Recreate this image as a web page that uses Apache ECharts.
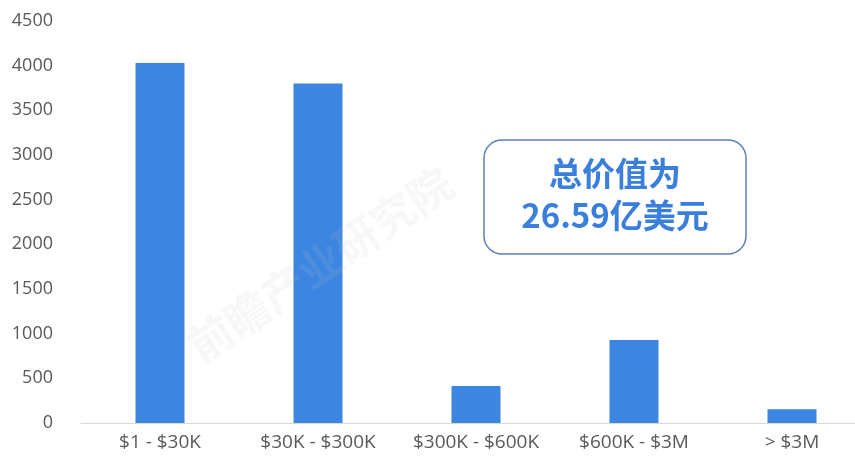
<!DOCTYPE html>
<html>
<head>
<meta charset="utf-8">
<style>
  html, body { margin: 0; padding: 0; background: #ffffff; }
  #chart { width: 855px; height: 458px; }
</style>
<script src="https://cdn.jsdelivr.net/npm/echarts@6/dist/echarts.min.js"></script>
</head>
<body>
<div id="chart"></div>
<script>
// Transaction value brackets and the number of deals in each
const categories = ['$1 - $30K', '$30K - $300K', '$300K - $600K', '$600K - $3M', '> $3M'];
const dealCounts = [4030, 3800, 415, 930, 155];
const yTicks = { min: 0, max: 4500, interval: 500 };
const totalNote = ['总价值为', '26.59亿美元'];
const watermarkText = '前瞻产业研究院';

const chart = echarts.init(document.getElementById('chart'), null, { renderer: 'canvas' });

const labelFont = '"Open Sans", "Liberation Sans", sans-serif';
const cjkFont = '"Noto Sans CJK SC", sans-serif';

chart.setOption({
  animation: false,
  backgroundColor: '#ffffff',
  // plot area runs past the right edge so the last bracket keeps full spacing
  grid: { left: 81, width: 790, top: 21, bottom: 35, containLabel: false, outerBoundsMode: 'none' },
  xAxis: {
    type: 'category',
    data: categories,
    axisLine: { show: true, lineStyle: { color: '#d9d9d9', width: 1 } },
    axisTick: { show: false },
    axisLabel: { color: '#595959', fontSize: 19, fontFamily: labelFont, margin: 10, interval: 0 }
  },
  yAxis: {
    type: 'value',
    min: yTicks.min,
    max: yTicks.max,
    interval: yTicks.interval,
    axisLine: { show: false },
    axisTick: { show: false },
    splitLine: { show: false },
    axisLabel: {
      color: '#595959', fontSize: 18, fontFamily: labelFont, margin: 28,
      formatter: (v) => String(v)
    }
  },
  series: [{
    type: 'bar',
    data: dealCounts,
    barWidth: 49,
    itemStyle: { color: '#3c86e2' }
  }],
  graphic: [
    {
      type: 'text',
      left: 180,
      top: 160,
      rotation: 34 * Math.PI / 180,
      originX: 150,
      originY: 20,
      z: 100,
      style: {
        text: watermarkText,
        fontSize: 44,
        fontWeight: 'bold',
        fontFamily: cjkFont,
        fill: 'rgba(190,190,190,0.13)'
      }
    },
    {
      type: 'rect',
      shape: { x: 484, y: 140, width: 262, height: 114, r: 18 },
      style: { fill: '#ffffff', stroke: '#5f7fb8', lineWidth: 1.5 },
      z: 110
    },
    {
      type: 'text',
      x: 615,
      y: 173,
      z: 111,
      style: {
        text: totalNote[0],
        fontSize: 33,
        fontWeight: 'bold',
        fontFamily: cjkFont,
        fill: '#3a7fdc',
        align: 'center',
        verticalAlign: 'middle'
      }
    },
    {
      type: 'text',
      x: 615,
      y: 215,
      z: 111,
      style: {
        text: totalNote[1],
        fontSize: 33,
        fontWeight: 'bold',
        fontFamily: cjkFont,
        fill: '#3a7fdc',
        align: 'center',
        verticalAlign: 'middle'
      }
    }
  ]
});
</script>
</body>
</html>
